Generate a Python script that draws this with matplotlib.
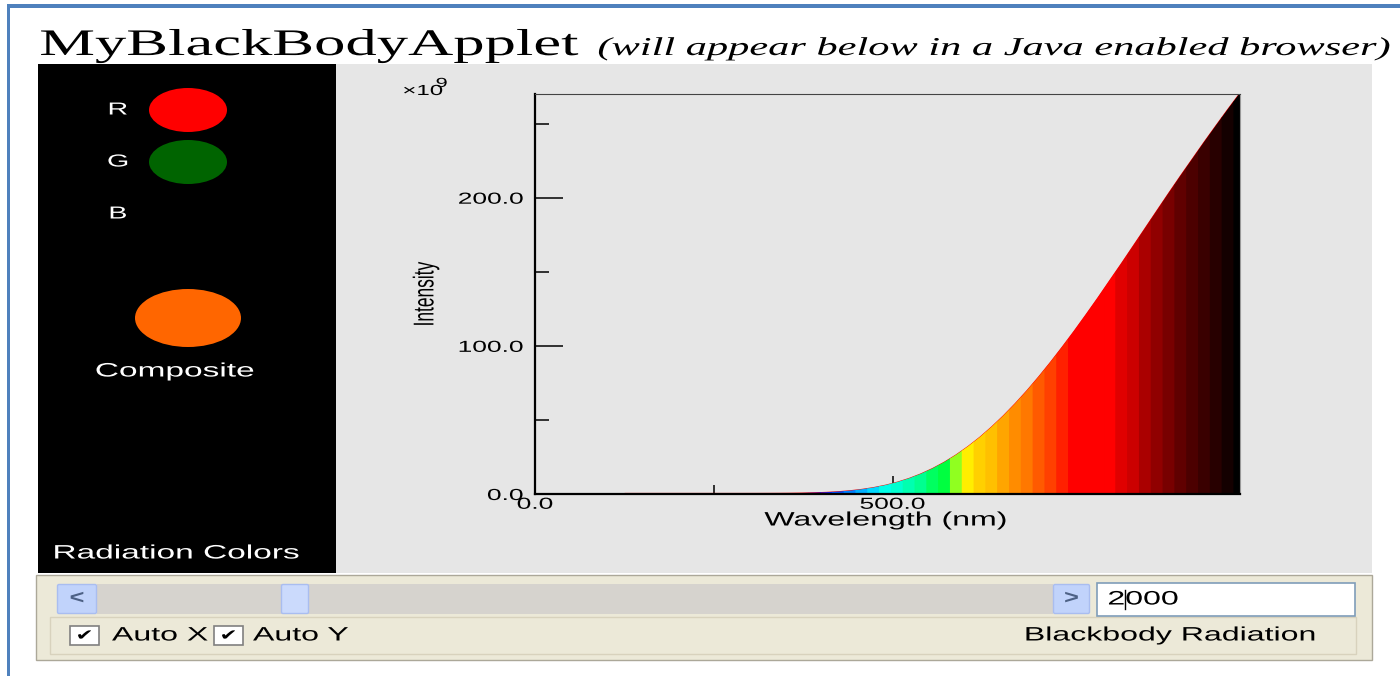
import matplotlib
matplotlib.use("Agg")
import matplotlib.pyplot as plt
from matplotlib.patches import Rectangle, Ellipse, FancyBboxPatch
from matplotlib.patheffects import AbstractPathEffect
from matplotlib.transforms import Affine2D

plt.rcParams["font.family"] = ["Liberation Sans", "DejaVu Sans"]

# values (T = 2000 K)
wavelength = [127.0, 143.5, 160.0, 176.6, 193.1, 209.6, 226.1, 242.6, 259.2, 275.7,
              292.2, 308.7, 325.2, 341.8, 358.3, 374.8, 391.3, 407.8, 424.4, 440.9,
              457.4, 473.9, 490.4, 507.0, 523.5, 540.0, 556.5, 573.0, 589.6, 606.1,
              622.6, 639.1, 655.6, 672.2, 688.7, 705.2, 721.7, 738.2, 754.8, 771.3,
              787.8, 804.3, 820.8, 837.4, 853.9, 870.4, 886.9, 903.4, 920.0, 936.5,
              953.0, 969.5, 986.0]
intensity = [0.0, 0.0, 0.0, 0.0, 0.0, 0.0, 0.0, 0.0, 0.0, 0.0,
             0.0, 0.01, 0.03, 0.06, 0.12, 0.23, 0.42, 0.72, 1.17, 1.82,
             2.74, 3.96, 5.56, 7.62, 10.15, 13.23, 16.89, 21.17, 26.15, 31.75,
             38.0, 44.96, 52.52, 60.78, 69.55, 78.93, 88.77, 99.1, 109.81, 120.86,
             132.13, 143.77, 155.34, 167.27, 179.11, 191.0, 202.83, 214.48, 225.92, 237.31,
             248.39, 259.34, 270.0]
strip_colors = ["#000000", "#000000", "#000000", "#000000", "#000000", "#000000", "#000010", "#000020", "#000030", "#000040",
                "#000050", "#000064", "#000078", "#00008c", "#0000a4", "#0000c4", "#0000e8", "#0020ff", "#0050ff", "#0080ff",
                "#00b0ff", "#00d8ff", "#00ffe8", "#00ffd0", "#00ffb0", "#00ff90", "#00ff60", "#00ff40", "#90ff20", "#ffee00",
                "#ffd000", "#ffc000", "#ffa500", "#ff8c00", "#ff7800", "#ff5a00", "#ff4000", "#ff2000", "#ff0000", "#ff0000",
                "#ff0000", "#ff0000", "#e00000", "#cc0000", "#aa0000", "#900000", "#780000", "#600000", "#4c0000", "#3a0000",
                "#280000", "#140000", "#000000"]
x_ticks = [0, 500]
x_minor = [250, 750]
y_ticks = [0, 100, 200]
y_minor = [50, 150, 250]
x_max = 986
y_max = 270
rgb_names = ["R", "G", "B"]
rgb_colors = ["#ff0000", "#006400", "#000000"]
composite_color = "#ff6600"
temperature = "2000"


class Stretch(AbstractPathEffect):
    # the screenshot is squeezed wide, so widen the glyphs around an anchor
    def __init__(self, anchor=0.5, sx=1.65):
        super().__init__()
        self.anchor = anchor
        self.sx = sx

    def draw_path(self, renderer, gc, tpath, affine, rgbFace=None):
        ext = tpath.get_extents(affine)
        x0 = ext.x0 + self.anchor * ext.width
        wide = affine + Affine2D().translate(-x0, 0).scale(self.sx, 1).translate(x0, 0)
        renderer.draw_path(gc, tpath, wide, rgbFace)


fig = plt.figure(figsize=(14, 6.76), dpi=100)
fig.patch.set_facecolor("white")

# pixel-space canvas for the applet chrome
bg = fig.add_axes([0, 0, 1, 1])
bg.set_xlim(0, 1400)
bg.set_ylim(676, 0)
bg.axis("off")


def label(x, y, s, size, ha="center", va="center", sx=1.65, **kw):
    anchor = {"left": 0.0, "center": 0.5, "right": 1.0}[ha]
    t = bg.text(x, y, s, fontsize=size, ha=ha, va=va, **kw)
    t.set_path_effects([Stretch(anchor, sx)])
    return t


# blue page frame
bg.add_patch(Rectangle((7, 4), 1393, 4, color="#4f81bd", lw=0))
bg.add_patch(Rectangle((7, 4), 3, 672, color="#4f81bd", lw=0))

label(40, 55, "MyBlackBodyApplet", 27, ha="left", va="baseline",
      family="Liberation Serif", sx=1.67)
label(598, 55, "(will appear below in a Java enabled browser)", 18.5, ha="left",
      va="baseline", family="Liberation Serif", style="italic", sx=1.65)

# panels
bg.add_patch(Rectangle((38, 64), 298, 509, color="black", lw=0))
bg.add_patch(Rectangle((336, 64), 1036, 509, color="#e6e6e6", lw=0))

# radiation colours
for i, (name, col) in enumerate(zip(rgb_names, rgb_colors)):
    yc = 110 + 52 * i
    label(118, yc, name, 12.5, color="white")
    bg.add_patch(Ellipse((188, yc), 78, 44, color=col, lw=0))
bg.add_patch(Ellipse((188, 318), 106, 58, color=composite_color, lw=0))
label(175, 372, "Composite", 14, color="white", sx=1.72)
label(177, 554, "Radiation Colors", 14, color="white", sx=1.72)

# plot
ax = fig.add_axes([535 / 1400, (676 - 494) / 676, 705 / 1400, 400 / 676])
ax.set_facecolor("none")
ax.set_axisbelow(True)
n = len(wavelength)
for i in range(n):
    lo, hi = max(i - 1, 0), min(i + 1, n - 1)
    xl = (wavelength[lo] + wavelength[i]) / 2
    xr = (wavelength[i] + wavelength[hi]) / 2
    yl = (intensity[lo] + intensity[i]) / 2
    yr = (intensity[i] + intensity[hi]) / 2
    ax.fill([xl, xl, wavelength[i], xr, xr], [0, yl, intensity[i], yr, 0],
            facecolor=strip_colors[i], edgecolor=strip_colors[i], lw=1.0, zorder=2)
ax.plot(wavelength, intensity, color="red", lw=1.6, zorder=1.5)

ax.set_xlim(0, x_max)
ax.set_ylim(0, y_max)
ax.set_xticks(x_ticks, ["%.1f" % v for v in x_ticks])
ax.set_xticks(x_minor, minor=True)
ax.set_yticks(y_ticks, ["%.1f" % v for v in y_ticks])
ax.set_yticks(y_minor, minor=True)
ax.tick_params(axis="y", which="major", direction="in", length=20, width=1.1, pad=8.5, labelsize=11.5)
ax.tick_params(axis="y", which="minor", direction="in", length=10, width=1.1)
ax.tick_params(axis="x", which="major", direction="in", length=13, width=1.1, pad=2, labelsize=11.5)
ax.tick_params(axis="x", which="minor", direction="in", length=6.5, width=1.1)
for t in ax.get_yticklabels():
    t.set_path_effects([Stretch(1.0)])
for t in ax.get_xticklabels():
    t.set_path_effects([Stretch(0.5)])
for side in ["left", "bottom"]:
    ax.spines[side].set_linewidth(1.6)
ax.spines["top"].set_color("#444444")
ax.spines["right"].set_color("#999999")

label(403, 91, "\u00d710", 10.5, ha="left")
label(436, 84, "9", 9.5, ha="left")
label(426, 294, "Intensity", 12.5, rotation=90)
label(886, 521, "Wavelength (nm)", 14)

# control strip
bg.add_patch(Rectangle((36, 575), 1336, 85, facecolor="#ece9d8", edgecolor="#aca899", lw=1))
bg.add_patch(Rectangle((50, 617), 1306, 37, facecolor="#ece9d8", edgecolor="#d8d2bd", lw=1))
bg.add_patch(Rectangle((97, 584), 956, 30, color="#d6d3ce", lw=0))
for x0, w, arrow in [(57, 40, "<"), (1053, 37, ">")]:
    bg.add_patch(FancyBboxPatch((x0 + 2, 586), w - 4, 26, boxstyle="round,pad=1.5",
                                facecolor="#c1d3fb", edgecolor="#a9bdf0", lw=1))
    label(x0 + w / 2, 599, arrow, 14, color="#4d6185", weight="bold", sx=1.3)
bg.add_patch(FancyBboxPatch((283, 586), 24, 26, boxstyle="round,pad=1.5",
                            facecolor="#cbdafc", edgecolor="#a9bdf0", lw=1))
bg.add_patch(Rectangle((1097, 583), 258, 33, facecolor="white", edgecolor="#7f9db9", lw=1.2))
label(1108, 600, temperature, 14, ha="left")
bg.plot([1125, 1125], [590, 609], color="black", lw=1)

for bx, text_x, name in [(70, 112, "Auto X"), (214, 253, "Auto Y")]:
    bg.add_patch(Rectangle((bx, 626), 29, 19, facecolor="white", edgecolor="#808080", lw=1.2))
    label(bx + 14.5, 636, "\u2714", 11, sx=1.4)
    label(text_x, 636, name, 14, ha="left")
label(1171, 636, "Blackbody Radiation", 14)

fig.savefig("out.png", dpi=100)
